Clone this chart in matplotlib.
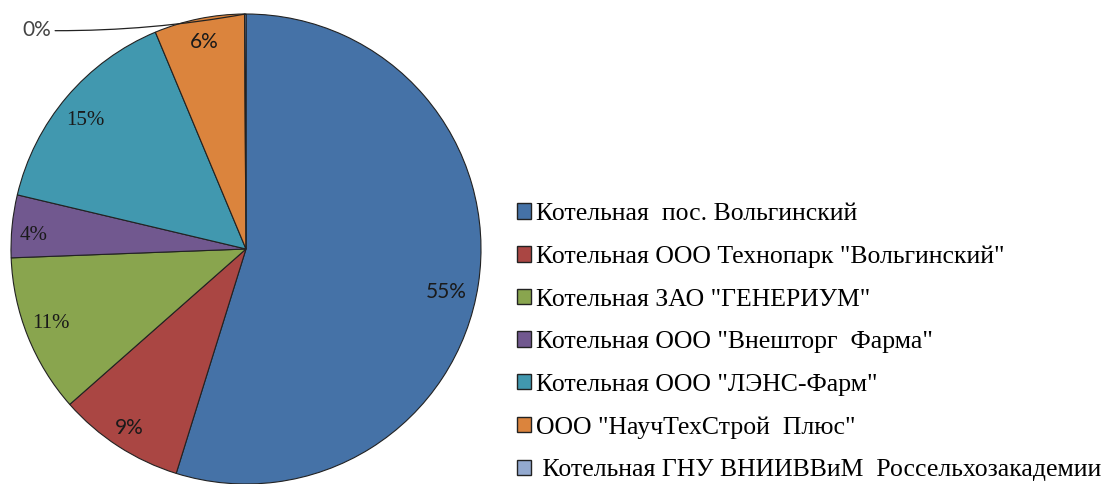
import matplotlib.pyplot as plt
from matplotlib.patches import Patch
import numpy as np

# доли котельных, %
labels = ['Котельная  пос. Вольгинский',
          'Котельная ООО Технопарк "Вольгинский"',
          'Котельная ЗАО "ГЕНЕРИУМ"',
          'Котельная ООО "Внешторг  Фарма"',
          'Котельная ООО "ЛЭНС-Фарм"',
          'ООО "НаучТехСтрой  Плюс"',
          ' Котельная ГНУ ВНИИВВиМ  Россельхозакадемии']
values = [54.8, 8.7, 10.9, 4.3, 15.0, 6.2, 0.1]
pct_text = ['55%', '9%', '11%', '4%', '15%', '6%', '0%']
colors = ['#4572A7', '#AA4643', '#89A54E', '#71588F', '#4198AF', '#DB843D', '#93A9CF']
# где стоят подписи внутри секторов (доля радиуса, сдвиг угла)
label_r = [0.87, 0.91, 0.89, 0.905, 0.875, 0.9]
label_da = [-3.5, 0, -1, 2, 1.5, 0]
label_font = ['Lato', 'Lato', 'Liberation Serif', 'Liberation Serif', 'Liberation Serif', 'Lato']

plt.rcParams['font.family'] = ['Liberation Serif', 'DejaVu Serif']

fig = plt.figure(figsize=(11.01, 4.84), dpi=100)
ax = fig.add_axes([11 / 1101, 0.0, 470 / 1101, 470 / 484])
wedges, _ = ax.pie(values, colors=colors, startangle=90, counterclock=False,
                   radius=1.0,
                   wedgeprops=dict(edgecolor='#222222', linewidth=0.8))
ax.set_xlim(-1, 1)
ax.set_ylim(-1, 1)
ax.set_aspect('equal')
ax.axis('off')

for w, txt, r, da, fam in zip(wedges[:-1], pct_text[:-1], label_r, label_da, label_font):
    ang = np.deg2rad((w.theta1 + w.theta2) / 2 + da)
    ax.text(r * np.cos(ang), r * np.sin(ang), txt, ha='center', va='center',
            fontsize=15, color='#1a1a1a', family=fam)

# подпись 0% с выноской
w = wedges[-1]
ang = np.deg2rad((w.theta1 + w.theta2) / 2)
ax.annotate(pct_text[-1], xy=(np.cos(ang), np.sin(ang)), xytext=(-0.83, 0.93),
            ha='right', va='center', fontsize=15, color='#444444', family='Lato',
            arrowprops=dict(arrowstyle='-', color='#222222', lw=0.9,
                            connectionstyle='arc3,rad=0.05', shrinkA=1, shrinkB=0),
            annotation_clip=False)

handles = [Patch(facecolor=c, edgecolor='#222222', linewidth=1.0) for c in colors]
fig.legend(handles, labels, loc='upper left', bbox_to_anchor=(517 / 1101, 1 - 203 / 484),
           frameon=False, fontsize=18.5, handlelength=0.55, handleheight=0.55,
           handletextpad=0.17, labelspacing=0.8, borderaxespad=0, borderpad=0)

fig.savefig('out.png', dpi=100)
